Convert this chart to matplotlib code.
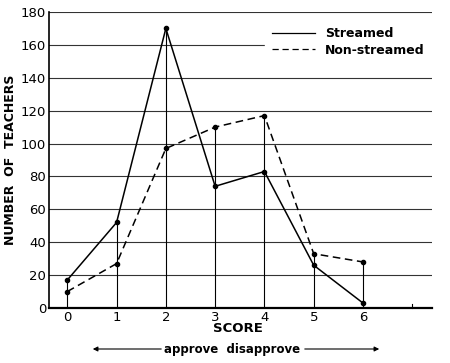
import numpy as np
import matplotlib
matplotlib.use("Agg")
import matplotlib.pyplot as plt

scores = [0, 1, 2, 3, 4, 5, 6]
streamed = [17, 52, 170, 74, 83, 26, 3]
non_streamed = [10, 27, 97, 110, 117, 33, 28]
y_ticks = [0, 20, 40, 60, 80, 100, 120, 140, 160, 180]

plt.rcParams['font.family'] = ['DejaVu Sans Condensed', 'Liberation Sans Narrow', 'DejaVu Sans']

fig = plt.figure(figsize=(4.5, 3.63), dpi=100)
ax = fig.add_axes([0.109, 0.1515, 0.851, 0.8155])

# horizontal rules
for yv in y_ticks[1:]:
    ax.axhline(yv, color='#333333', linewidth=0.8, zorder=1)

# drop lines from each score
tops = np.maximum(streamed, non_streamed)
ax.vlines(scores, 0, tops, color='black', linewidth=0.8, zorder=2)

ax.plot(scores, streamed, color='black', linewidth=1.1, marker='o', markersize=3,
        label='Streamed', zorder=3)
ax.plot(scores, non_streamed, color='black', linewidth=1.1, linestyle=(0, (5, 3)),
        marker='o', markersize=3, label='Non-streamed', zorder=3)

ax.set_xlim(-0.37, 7.4)
ax.set_ylim(0, 180)
ax.set_xticks(scores)
ax.set_yticks(y_ticks)
ax.tick_params(length=0, labelsize=9.5, pad=2)

for s in ['top', 'right']:
    ax.spines[s].set_visible(False)
ax.spines['bottom'].set_linewidth(1.6)
ax.spines['left'].set_linewidth(1.2)
ax.plot([7, 7], [0, 2.5], color='black', linewidth=0.8, clip_on=False)

leg = ax.legend(loc='upper right', bbox_to_anchor=(1.0, 0.975), borderaxespad=0,
                frameon=True, handlelength=3.4, borderpad=0.6, labelspacing=0.3,
                prop={'weight': 'bold', 'size': 9})
leg.get_frame().set_edgecolor('white')
leg.get_frame().set_facecolor('white')
leg.get_frame().set_alpha(1)
leg.get_frame().set_boxstyle('square', pad=0)
for h in leg.get_lines():
    h.set_marker('')
    h.set_linewidth(0.9)

ax.set_ylabel('NUMBER  OF  TEACHERS', fontsize=9, fontweight='bold', labelpad=3)
fig.text(238 / 450, 1 - 329 / 363, 'SCORE', ha='center', va='center',
         fontsize=9.5, fontweight='bold')
fig.text(232 / 450, 1 - 349 / 363, 'approve  disapprove', ha='center', va='center',
         fontsize=8.5, fontweight='bold')
fig.add_artist(matplotlib.patches.FancyArrowPatch(
    (164 / 450, 1 - 349 / 363), (90 / 450, 1 - 349 / 363),
    transform=fig.transFigure, arrowstyle='-|>', mutation_scale=7, color='black', linewidth=0.8))
fig.add_artist(matplotlib.patches.FancyArrowPatch(
    (302 / 450, 1 - 349 / 363), (382 / 450, 1 - 349 / 363),
    transform=fig.transFigure, arrowstyle='-|>', mutation_scale=7, color='black', linewidth=0.8))

fig.savefig('out.png', dpi=100)
